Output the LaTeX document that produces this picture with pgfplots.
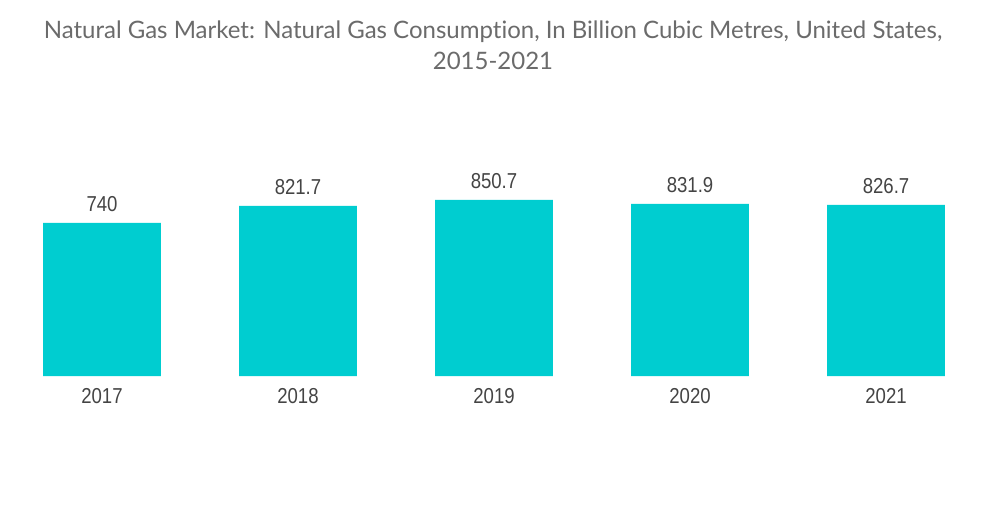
\documentclass[border=0pt]{standalone}
\usepackage{pgfplots}
\pgfplotsset{compat=1.18}
\usepackage{fontspec}
\setmainfont{Liberation Sans}[FakeStretch=0.86]
\newfontfamily\titlefont{Lato}[Ligatures={NoCommon}]
\definecolor{barc}{HTML}{00CDD0}
\definecolor{titlec}{HTML}{6B6B6B}
\definecolor{labc}{HTML}{444444}
\begin{document}
\begin{tikzpicture}[x=1pt,y=1pt]
\useasboundingbox (0,0) rectangle (500,252);
\begin{axis}[
  at={(51pt,64pt)}, anchor=origin,
  scale only axis, width=490pt, height=103.45pt,
  xmin=-0.5, xmax=4.5, ymin=0, ymax=1000,
  axis line style={draw=none},
  tick style={draw=none},
  axis x line*=bottom, axis y line=none,
  ybar, bar width=0.6,
  xtick=data, xticklabels={2017,2018,2019,2020,2021},
  ytick=\empty,
  xticklabel style={font=\fontsize{10.8}{12}\selectfont, text=labc, inner sep=0pt, anchor=north, yshift=-1.5pt},
  nodes near coords,
  nodes near coords style={font=\fontsize{10.8}{12}\selectfont, text=labc, inner sep=0pt, anchor=south, yshift=5.5pt},
  point meta=explicit symbolic,
  clip=false,
]
\addplot[fill=barc, draw=none] coordinates {
  (0,740) [740]
  (1,821.7) [821.7]
  (2,850.7) [850.7]
  (3,831.9) [831.9]
  (4,826.7) [826.7]
};
\end{axis}
\node[anchor=base, inner sep=0pt, font=\titlefont\fontsize{12}{15}\selectfont, text=titlec] at (246.5,232.5) {Natural Gas Market: Natural Gas Consumption, In Billion Cubic Metres, United States,};
\node[anchor=base, inner sep=0pt, font=\titlefont\fontsize{12}{15}\selectfont, text=titlec] at (246.5,217) {2015-2021};
\end{tikzpicture}
\end{document}
